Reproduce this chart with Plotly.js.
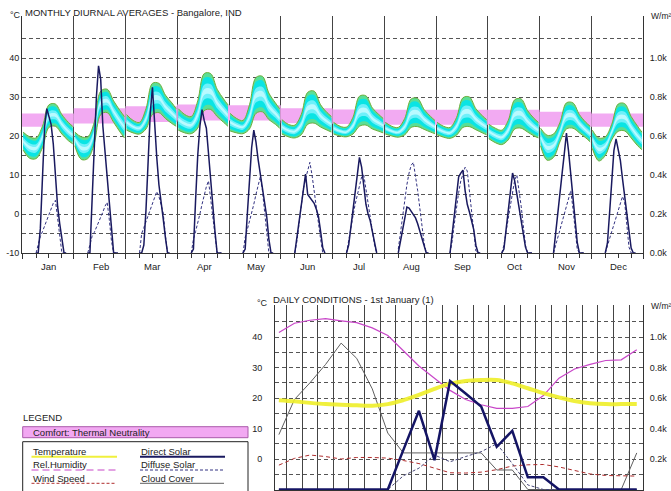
<!DOCTYPE html>
<html><head><meta charset="utf-8">
<script src="https://cdn.plot.ly/plotly-3.0.1.min.js"></script>
<style>html,body{margin:0;padding:0;background:#fff;}#chart{width:671px;height:491px;}</style>
</head><body><div id="chart"></div>
<script>
// ---------- DATA ----------
const months = ['Jan','Feb','Mar','Apr','May','Jun','Jul','Aug','Sep','Oct','Nov','Dec'];
const bandHours = [0,3,6,9,12,15,18,21,23];
const tempUpper = [
  [21.0,19.8,19.5,22.5,28.0,28.2,25.5,23.5,22.5],
  [21.0,19.8,19.8,23.5,31.5,32.0,29.0,26.5,25.0],
  [25.5,24.0,23.5,27.0,33.5,33.5,30.5,28.5,27.0],
  [27.0,25.5,25.0,29.0,36.0,36.0,32.0,29.5,28.0],
  [25.8,24.5,24.0,28.0,35.0,35.3,31.0,28.5,27.0],
  [24.2,23.0,22.8,25.5,31.2,31.5,28.0,26.0,25.0],
  [23.5,22.5,22.3,24.8,30.2,30.3,27.2,25.5,24.5],
  [23.5,22.5,22.2,24.5,29.5,29.6,26.8,25.0,24.0],
  [23.5,22.5,22.2,24.7,29.8,30.0,27.0,25.2,24.2],
  [23.0,22.0,21.5,24.0,29.3,29.5,26.5,24.5,23.5],
  [22.0,20.2,20.5,23.5,28.5,28.5,25.5,23.5,22.5],
  [21.5,19.5,19.8,23.0,28.2,28.3,25.0,22.5,21.0]
];
const tempLower = [
  [16.4,14.3,14.2,17.0,22.2,22.5,20.5,18.8,18.0],
  [17.5,14.0,14.2,18.0,25.5,26.0,23.5,21.0,19.5],
  [21.5,20.8,20.5,21.8,25.5,26.0,24.5,23.2,22.5],
  [21.5,20.8,20.6,22.0,26.5,26.8,25.0,23.5,22.5],
  [21.3,20.8,20.6,21.8,25.8,26.2,24.2,23.0,22.0],
  [20.5,19.8,19.5,20.3,23.0,23.3,22.3,21.5,21.0],
  [20.5,20.0,19.8,20.5,22.5,22.8,21.8,21.2,20.8],
  [20.5,20.0,19.7,20.3,22.2,22.4,21.7,21.0,20.6],
  [20.3,19.7,19.4,20.2,22.2,22.4,21.6,20.8,20.3],
  [19.3,18.3,17.8,19.0,21.8,22.0,21.0,20.0,19.5],
  [17.5,13.8,14.5,18.5,21.8,22.0,20.8,19.5,18.5],
  [16.8,13.6,15.0,19.0,21.2,21.3,19.5,17.5,16.5]
];
const comfortLow  = [22.4,23.2,23.6,24.0,24.0,23.3,23.1,22.9,22.9,22.8,22.4,22.4];
const comfortHigh = [25.8,27.1,27.6,28.1,27.9,27.1,26.8,26.7,26.7,26.7,26.2,25.8];
const solarHours = [6,7,8,9,10,11,12,13,14,15,16,17,18,19,20];
const directSolar = [
  [0,0,125,380,650,740,700,660,560,370,240,150,60,0,0],
  [0,0,270,525,800,960,890,650,520,420,290,130,0,0,0],
  [0,0,40,220,470,720,850,660,490,350,270,175,80,0,0],
  [0,20,270,500,650,735,680,640,510,370,240,110,0,0,0],
  [0,20,200,370,540,630,570,480,400,330,260,186,70,0,0],
  [0,80,165,255,345,405,300,285,270,255,225,186,110,25,0],
  [0,40,130,220,310,420,490,440,340,250,200,165,110,50,0],
  [0,60,120,180,235,230,215,200,180,150,110,70,30,0,0],
  [0,100,200,300,390,410,425,320,250,210,170,120,40,0,0],
  [0,20,120,220,320,410,370,300,240,170,100,30,0,0,0],
  [0,110,210,310,410,510,615,520,400,290,170,55,0,0,0],
  [0,50,205,365,525,585,535,475,380,290,200,110,25,0,0]
];
const diffuseSolar = [
  [0,40,85,110,140,170,200,225,255,270,180,80,0,0,0],
  [0,50,85,105,130,155,180,210,240,260,170,60,0,0,0],
  [0,100,130,160,190,220,250,280,315,290,250,205,90,0,0],
  [0,70,110,150,200,250,300,340,370,280,180,80,0,0,0],
  [0,80,120,160,200,250,300,350,390,320,220,100,0,0,0],
  [0,60,150,240,330,380,430,465,400,310,230,150,70,0,0],
  [0,70,130,190,250,300,350,390,400,330,250,170,100,40,0],
  [20,100,190,280,350,410,450,465,400,320,230,140,50,0,0],
  [0,60,150,240,310,370,410,440,420,320,200,90,10,0,0],
  [0,40,110,180,250,320,375,400,330,240,140,40,0,0,0],
  [0,40,80,120,160,200,240,280,320,230,120,20,0,0,0],
  [0,40,75,110,145,180,215,250,290,260,130,30,0,0,0]
];
const dayHours = [0,1,2,3,4,5,6,7,8,9,10,11,12,13,14,15,16,17,18,19,20,21,22,23];
const dayTemp = [19.3,18.9,18.4,18.0,17.8,17.6,17.5,18.0,19.3,21.0,23.0,24.7,25.6,25.9,25.9,24.8,23.2,21.6,20.2,19.0,18.3,18.0,18.0,18.0];
const dayHumidity = [41.5,44.5,45.5,46.0,45.3,44.7,43.0,40.5,35.5,30.5,26.5,22.5,19.5,17.8,16.6,16.6,17.2,20.8,26.5,29.5,31.0,32.3,32.5,35.8];
const dayWind = [-2.0,0.2,1.3,0.8,0.0,0.5,0.5,0.3,-0.5,-1.5,-3.0,-4.5,-4.6,-4.3,-3.5,-2.3,-1.9,-1.8,-2.6,-3.8,-4.9,-5.4,-5.6,-5.6];
const dayCloud = [8,19.5,25,31,38,33,23,8.5,2,2,2,2,2,2,-3.6,-3.6,-10,-10,-10,-10,-10,-10,-10,2];
const dayDirect = [0,0,0,0,0,0,0,0,260,516,192,712,630,544,280,385,80,80,0,0,0,0,0,0];
const dayDiffuse = [0,0,0,0,0,0,0,0,90,140,226,182,216,248,300,170,30,0,0,0,0,0,0,0];

// ---------- helpers ----------
const W = 671, H = 491;
const px = v => v / W;
const py = v => 1 - v / H;
const FONT = 'Arial, "Liberation Sans", sans-serif';
const TXT = '#222';

const traces = [];
// comfort bands
months.forEach((mo, m) => {
  traces.push({x:[m, m+1, m+1, m], y:[comfortLow[m], comfortLow[m], comfortHigh[m], comfortHigh[m]],
    mode:'lines', fill:'toself', fillcolor:'rgb(242,170,242)', line:{width:0},
    xaxis:'x', yaxis:'y', hoverinfo:'skip'});
});
// temperature bands (shaded from edge to centre)
const layers = [[0,'rgb(90,222,150)'],[0.12,'rgb(10,228,228)'],[0.3,'rgb(110,240,250)'],[0.42,'rgb(185,250,255)']];
months.forEach((mo, m) => {
  const xs = bandHours.map(h => m + (h + 0.5) / 24);
  const U = tempUpper[m], L = tempLower[m];
  layers.forEach(([f, c]) => {
    const lo = L.map((v, i) => v + f * (U[i] - v));
    const hi = U.map((v, i) => v - f * (v - L[i]));
    traces.push({x:xs, y:lo, mode:'lines', line:{width:0, shape:'spline'}, xaxis:'x', yaxis:'y', hoverinfo:'skip'});
    traces.push({x:xs, y:hi, mode:'lines', line:{width:0, shape:'spline'}, fill:'tonexty', fillcolor:c, xaxis:'x', yaxis:'y', hoverinfo:'skip'});
  });
  [U, L].forEach(arr => traces.push({x:xs, y:arr, mode:'lines', line:{width:1, color:'rgb(110,175,60)', shape:'spline'}, xaxis:'x', yaxis:'y', hoverinfo:'skip'}));
});
// solar
months.forEach((mo, m) => {
  const xs = solarHours.map(h => m + (h + 0.5) / 24);
  traces.push({x:xs, y:diffuseSolar[m], mode:'lines', line:{color:'rgb(50,50,130)', width:1, dash:'3px,2px'}, xaxis:'x', yaxis:'y2', hoverinfo:'skip'});
  traces.push({x:xs, y:directSolar[m], mode:'lines', line:{color:'rgb(25,25,95)', width:1.5}, xaxis:'x', yaxis:'y2', hoverinfo:'skip'});
});
// daily conditions
const dx = dayHours.map(h => h + 0.5);
traces.push({x:dx, y:dayCloud, mode:'lines', line:{color:'rgb(95,95,95)', width:1}, xaxis:'x2', yaxis:'y3'});
traces.push({x:dx, y:dayWind, mode:'lines', line:{color:'rgb(175,45,45)', width:1, dash:'4px,3px'}, xaxis:'x2', yaxis:'y3'});
traces.push({x:dx, y:dayHumidity, mode:'lines', line:{color:'rgb(200,70,200)', width:1.2}, xaxis:'x2', yaxis:'y3'});
traces.push({x:dx, y:dayTemp, mode:'lines', line:{color:'rgba(238,238,40,0.9)', width:4, shape:'spline'}, xaxis:'x2', yaxis:'y3'});
traces.push({x:dx, y:dayDiffuse, mode:'lines', line:{color:'rgb(70,70,120)', width:1, dash:'3px,2px'}, xaxis:'x2', yaxis:'y4'});
traces.push({x:dx, y:dayDirect, mode:'lines', line:{color:'rgb(20,20,100)', width:2.5}, xaxis:'x2', yaxis:'y4'});

// ---------- axes ----------
const gridVals = [-10,-5,0,5,10,15,20,25,30,35,40,45];
const gridText = ['-10','','0','','10','','20','','30','','40',''];
const kVals = [0,200,400,600,800,1000];
const kText = ['0.0k','0.2k','0.4k','0.6k','0.8k','1.0k'];
const monthEdges = months.map((m, i) => i).concat([12]);
const hourTicks = [];
months.forEach((mo, m) => [6, 12, 18].forEach(h => hourTicks.push(m + (h + 0.5) / 24)));
const tf = {family:FONT, size:9, color:TXT};
const topRange = [-10, 50.77];
const botRange = [-10.16, 50.49];

const annotations = [];
months.forEach((mo, m) => annotations.push({x:m + 12.5/24, xref:'x', y:py(266), yref:'paper', text:mo, showarrow:false, font:{family:FONT, size:9.5, color:TXT}, xanchor:'center', yanchor:'middle'}));
const addText = (x, y, text, size, anchor) => annotations.push({x:px(x), y:py(y), xref:'paper', yref:'paper', text, showarrow:false, xanchor:anchor || 'left', yanchor:'middle', font:{family:FONT, size:size, color:TXT}});
addText(8, 15, '°C', 9);
addText(23, 12.5, 'MONTHLY DIURNAL AVERAGES - Bangalore, IND', 9.5);
addText(649, 16, 'W/m²', 8.5);
addText(255, 303, '°C', 9);
addText(271, 299.5, 'DAILY CONDITIONS - 1st January (1)', 9.5);
addText(649, 306, 'W/m²', 8.5);
addText(21, 417.5, 'LEGEND', 9.5);
addText(31, 432.3, 'Comfort: Thermal Neutrality', 9.5);
addText(31, 451.5, 'Temperature', 9.5);
addText(31, 464.8, 'Rel.Humidity', 9.5);
addText(31, 478.3, 'Wind Speed', 9.5);
addText(139, 451.5, 'Direct Solar', 9.5);
addText(139, 464.8, 'Diffuse Solar', 9.5);
addText(139, 478.3, 'Cloud Cover', 9.5);

const line = (x0, x1, y, color, width, dash) => ({type:'line', xref:'paper', yref:'paper', x0:px(x0), x1:px(x1), y0:py(y), y1:py(y), line:{color, width, dash:dash || 'solid'}});
const shapes = [
  {type:'rect', xref:'paper', yref:'paper', x0:px(22.7), x1:px(248), y0:py(437.7), y1:py(426.7), fillcolor:'rgb(242,168,242)', line:{color:'rgb(170,90,170)', width:1}},
  {type:'rect', xref:'paper', yref:'paper', x0:px(22.7), x1:px(248), y0:-0.02, y1:py(441.7), fillcolor:'rgba(0,0,0,0)', line:{color:'#222', width:1}},
  line(31.5, 117, 456.8, 'rgb(240,240,60)', 2),
  line(31.5, 116, 470, 'rgb(200,70,200)', 1.2, '7px,4px'),
  line(31.5, 116, 483.3, 'rgb(175,45,45)', 1, '3px,2px'),
  line(140, 225, 456.8, 'rgb(25,25,95)', 2),
  line(140, 223, 470, 'rgb(50,50,130)', 1, '3px,2px'),
  line(140, 224, 483.3, 'rgb(95,95,95)', 1)
];

const layout = {
  width:W, height:H, margin:{l:0, r:0, t:0, b:0}, showlegend:false, hovermode:false,
  paper_bgcolor:'#fff', plot_bgcolor:'#fff',
  font:{family:FONT, size:9, color:TXT},
  xaxis:{domain:[px(22), px(643)], range:[0, 12], anchor:'y', tickmode:'array', tickvals:monthEdges,
    showticklabels:false, ticks:'outside', ticklen:5, tickcolor:'#333', showgrid:true, gridcolor:'#444', gridwidth:1,
    zeroline:false, showline:true, linecolor:'#333', linewidth:1, fixedrange:true,
    minor:{tickmode:'array', tickvals:hourTicks, ticks:'outside', ticklen:4, tickcolor:'#333', showgrid:false}},
  yaxis:{domain:[py(253), py(16)], range:topRange, anchor:'x', tickmode:'array', tickvals:gridVals, ticktext:gridText,
    showgrid:true, gridcolor:'#555', griddash:'4px,3px', gridwidth:1, zeroline:false, showline:true, linecolor:'#333',
    ticks:'', tickfont:tf, fixedrange:true},
  yaxis2:{overlaying:'y', side:'right', anchor:'x', range:[0, (topRange[1] + 10) * 20], tickmode:'array', tickvals:kVals, ticktext:kText,
    showgrid:false, zeroline:false, showline:true, linecolor:'#333', ticks:'', tickfont:tf, ticklabelstandoff:4, fixedrange:true},
  xaxis2:{domain:[px(275), px(643)], range:[0.25, 23.9], anchor:'y3', tickmode:'linear', tick0:0, dtick:1,
    showticklabels:false, ticks:'', showgrid:true, gridcolor:'#444', gridwidth:1, zeroline:false, showline:true, linecolor:'#333', fixedrange:true},
  yaxis3:{domain:[py(490), py(305)], range:botRange, anchor:'x2', tickmode:'array', tickvals:gridVals, ticktext:gridText,
    showgrid:true, gridcolor:'#555', griddash:'4px,3px', gridwidth:1, zeroline:false, showline:true, linecolor:'#333',
    ticks:'', tickfont:tf, ticklabelstandoff:10, fixedrange:true},
  yaxis4:{overlaying:'y3', side:'right', anchor:'x2', range:[(botRange[0] + 10) * 20, (botRange[1] + 10) * 20], tickmode:'array', tickvals:kVals, ticktext:kText,
    showgrid:false, zeroline:false, showline:true, linecolor:'#333', ticks:'', tickfont:tf, ticklabelstandoff:4, fixedrange:true},
  annotations, shapes
};
Plotly.newPlot('chart', traces, layout, {displayModeBar:false, staticPlot:true});
</script></body></html>
